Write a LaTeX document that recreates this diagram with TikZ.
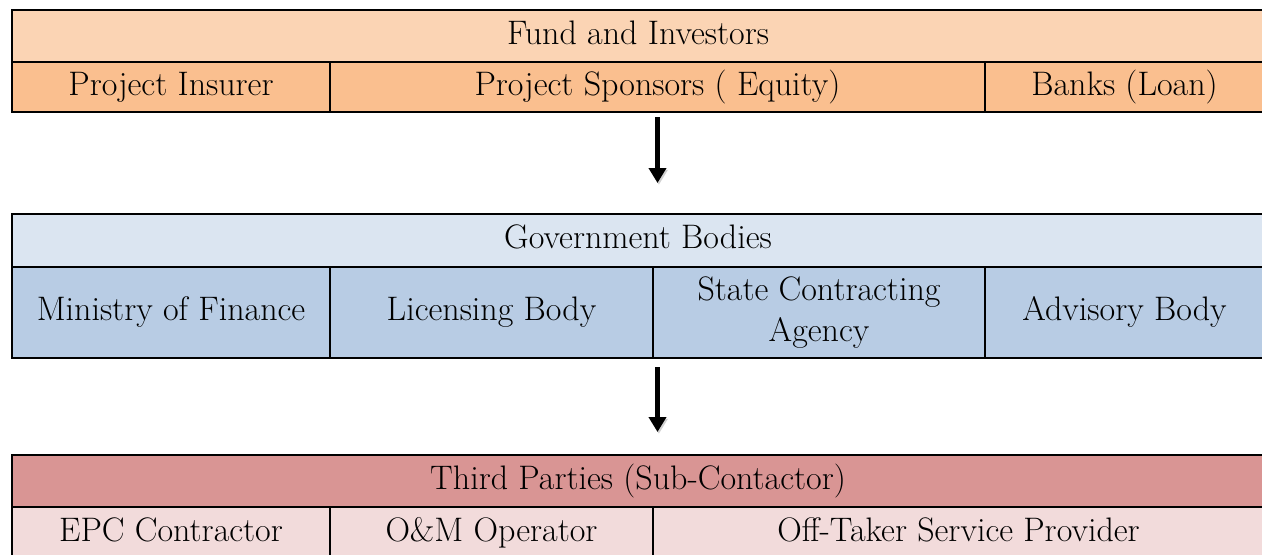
\documentclass[tikz,border=0pt]{standalone}
\usepackage{fontspec}
\usepackage{tikz}
\usetikzlibrary{positioning}
\usetikzlibrary{arrows.meta}
\definecolor{fundhead}{HTML}{FBD4B4}
\definecolor{fundcell}{HTML}{FABF8F}
\definecolor{govhead}{HTML}{DBE5F1}
\definecolor{govcell}{HTML}{B8CCE4}
\definecolor{thirdhead}{HTML}{D99594}
\definecolor{thirdcell}{HTML}{F2DBDB}
\tikzset{%
  box/.style = {rectangle,draw,line width=0.8pt,inner sep=0pt,outer sep=0pt,
        align=center,font=\fontsize{17}{20.5}\selectfont},
  cell/.style = {box,text height=12pt,text depth=4pt},
  head/.style = {cell,minimum width=626pt,minimum height=26pt,anchor=north west},
  flow/.style = {line width=2.5pt,-{Triangle[width=8.5pt,length=7.5pt]},
        preaction={draw=black!18,transform canvas={shift={(0.7pt,-0.9pt)}}}}
}

\begin{document}
\begin{tikzpicture}[node distance=0pt]
   \useasboundingbox (0,0) rectangle (631pt,-277pt);
   \clip (0,0) rectangle (631pt,-277pt);
   % funding side
   \node[head,fill=fundhead] (fund) at (6pt,-5pt) {Fund and Investors};
   \node[cell,fill=fundcell,minimum width=159pt,minimum height=25pt,anchor=north west]
        (insurer) at (fund.south west) {Project Insurer};
   \node[cell,fill=fundcell,minimum width=327.5pt,minimum height=25pt]
        (sponsors) [right=of insurer] {Project Sponsors ( Equity)};
   \node[cell,fill=fundcell,minimum width=139.5pt,minimum height=25pt]
        (banks) [right=of sponsors] {Banks (Loan)};
   % government side
   \node[head,fill=govhead,minimum height=26.5pt] (gov) at (6pt,-107pt) {Government Bodies};
   \node[cell,fill=govcell,minimum width=159pt,minimum height=45.5pt,anchor=north west]
        (finance) at (gov.south west) {Ministry of Finance};
   \node[cell,fill=govcell,minimum width=161.5pt,minimum height=45.5pt]
        (licence) [right=of finance] {Licensing Body};
   \node[box,fill=govcell,minimum width=166pt,minimum height=45.5pt]
        (agency) [right=of licence] {State Contracting\\Agency};
   \node[cell,fill=govcell,minimum width=139.5pt,minimum height=45.5pt]
        (advisory) [right=of agency] {Advisory Body};
   % third parties
   \node[head,fill=thirdhead] (third) at (6pt,-227.5pt) {Third Parties (Sub-Contactor)};
   \node[cell,fill=thirdcell,minimum width=159pt,minimum height=26pt,anchor=north west]
        (epc) at (third.south west) {EPC Contractor};
   \node[cell,fill=thirdcell,minimum width=161.5pt,minimum height=26pt]
        (operator) [right=of epc] {O\&M Operator};
   \node[cell,fill=thirdcell,minimum width=305.5pt,minimum height=26pt]
        (offtaker) [right=of operator] {Off-Taker Service Provider};
   % arrows between the tiers
   \draw[flow,shorten <=2.5pt,shorten >=15.5pt] (sponsors.south) -- (sponsors.south |- gov.north);
   \draw[flow,shorten <=4.5pt,shorten >=11.5pt] (sponsors.south |- agency.south)
        -- (sponsors.south |- third.north);
\end{tikzpicture}
\end{document}
